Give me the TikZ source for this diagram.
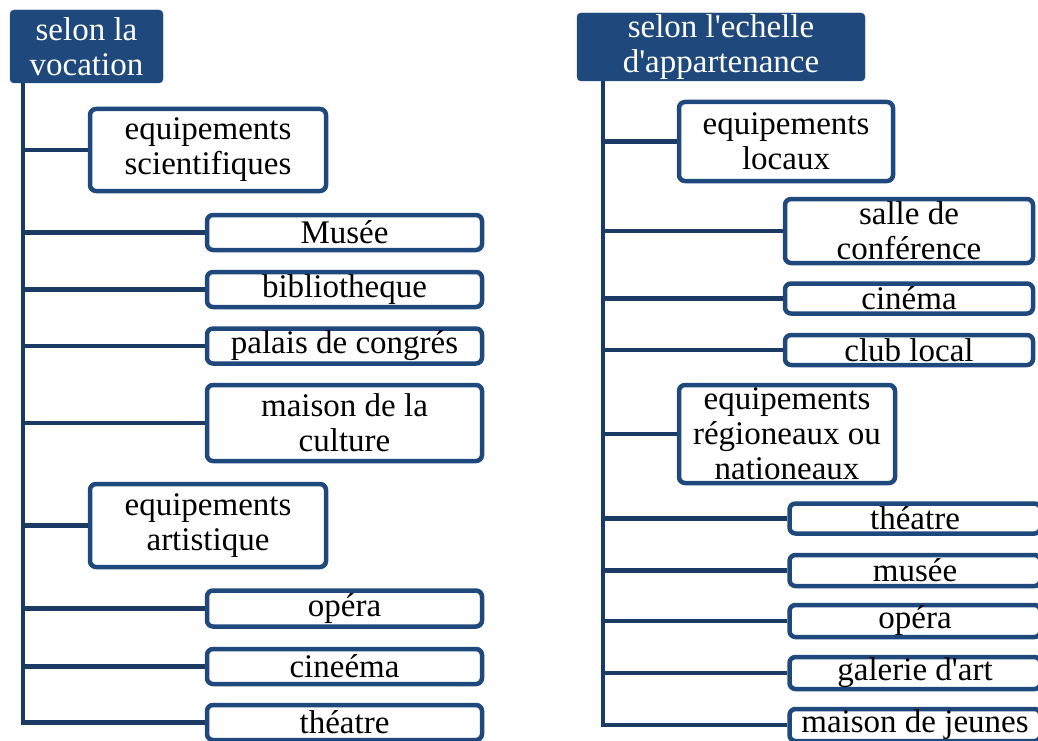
\documentclass[tikz,border=0pt]{standalone}
\usepackage{fontspec}
\setmainfont{Liberation Serif}[Ligatures=TeXOff]
\definecolor{bleu}{RGB}{31,73,125}
\definecolor{marine}{RGB}{27,58,100}
\tikzset{
  titre/.style={fill=bleu, draw=bleu, rounded corners=4pt, text=white, align=center, inner sep=0pt},
  boite/.style={draw=bleu, line width=4.5pt, fill=white, rounded corners=6pt, align=center, inner sep=0pt},
  lien/.style={draw=marine, line width=4.5pt}
}

\begin{document}
\begin{tikzpicture}[x=1pt,y=-1pt,font=\fontsize{33}{35}\selectfont]
\clip (0,0) rectangle (1038,741);
% selon la vocation
\node[titre, minimum width=153, minimum height=73] (voc) at (86.5,46.5) {selon la\\vocation};
\node[boite, minimum width=236, minimum height=82] (sci) at (208,150) {equipements\\scientifiques};
\node[boite, minimum width=275, minimum height=35] (musee) at (344.5,232.5) {Musée};
\node[boite, minimum width=275, minimum height=35] (biblio) at (344.5,289.5) {bibliotheque};
\node[boite, minimum width=275, minimum height=35] (palais) at (344.5,346) {palais de congrés};
\node[boite, minimum width=275, minimum height=76] (maison) at (344.5,423) {maison de la\\culture};
\node[boite, minimum width=236, minimum height=83] (art) at (208,525.5) {equipements\\artistique};
\node[boite, minimum width=275, minimum height=36] (opera) at (344.5,608.5) {opéra};
\node[boite, minimum width=275, minimum height=35] (cine) at (344.5,666.5) {cineéma};
\node[boite, minimum width=275, minimum height=35] (theatre) at (344.5,722.5) {théatre};
\coordinate (t1) at ([xshift=13pt]voc.south west);
\draw[lien] (t1) |- (sci.west);
\draw[lien] (t1) |- (musee.west);
\draw[lien] (t1) |- (biblio.west);
\draw[lien] (t1) |- (palais.west);
\draw[lien] (t1) |- (maison.west);
\draw[lien] (t1) |- (art.west);
\draw[lien] (t1) |- (opera.west);
\draw[lien] (t1) |- (cine.west);
\draw[lien] (t1) |- (theatre.west);
% selon l'echelle d'appartenance
\node[titre, minimum width=288, minimum height=68] (ech) at (721,47) {selon l'echelle\\d'appartenance};
\node[boite, minimum width=214, minimum height=79] (loc) at (786,141.5) {equipements\\locaux};
\node[boite, minimum width=248, minimum height=64] (salle) at (909,231) {salle de\\conférence};
\node[boite, minimum width=248, minimum height=30] (cinema) at (909,298.5) {cinéma};
\node[boite, minimum width=248, minimum height=30] (club) at (909,350) {club local};
\node[boite, minimum width=216, minimum height=98] (reg) at (787,434) {equipements\\régioneaux ou\\nationeaux};
\node[boite, minimum width=251, minimum height=30] (theatre2) at (915,518.5) {théatre};
\node[boite, minimum width=251, minimum height=31] (musee2) at (915,570.5) {musée};
\node[boite, minimum width=251, minimum height=32] (opera2) at (915,621) {opéra};
\node[boite, minimum width=251, minimum height=32] (galerie) at (915,673) {galerie d'art};
\node[boite, minimum width=251, minimum height=32] (jeunes) at (915,725) {maison de jeunes};
\coordinate (t2) at ([xshift=26pt]ech.south west);
\draw[lien] (t2) |- (loc.west);
\draw[lien] (t2) |- (salle.west);
\draw[lien] (t2) |- (cinema.west);
\draw[lien] (t2) |- (club.west);
\draw[lien] (t2) |- (reg.west);
\draw[lien] (t2) |- (theatre2.west);
\draw[lien] (t2) |- (musee2.west);
\draw[lien] (t2) |- (opera2.west);
\draw[lien] (t2) |- (galerie.west);
\draw[lien] (t2) |- (jeunes.west);
\end{tikzpicture}
\end{document}
